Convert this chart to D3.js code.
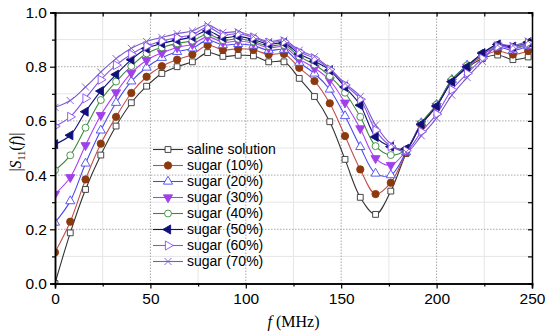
<!DOCTYPE html>
<html>
<head>
<meta charset="utf-8">
<script src="https://cdn.jsdelivr.net/npm/d3@7"></script>
<style>
  body { margin: 0; background: #fff; }
  svg { display: block; font-family: "Liberation Sans", Arial, sans-serif; }
</style>
</head>
<body>
<div id="chart"></div>
<script>
// frequency points (MHz)
var freq = [0, 8, 16, 24, 32, 40, 48, 56, 64, 72, 80, 88, 96, 104, 112, 120,
            128, 136, 144, 152, 160, 168, 176, 184, 192, 200, 208, 216, 224, 232, 240, 248];

// |S11(f)|
var saline = [0.000, 0.187, 0.347, 0.474, 0.581, 0.667, 0.728, 0.775, 0.800, 0.818, 0.852, 0.838, 0.842, 0.840, 0.818, 0.818,
              0.757, 0.690, 0.597, 0.458, 0.318, 0.255, 0.341, 0.480, 0.585, 0.655, 0.745, 0.795, 0.830, 0.843, 0.826, 0.836];
var sugar10 = [0.115, 0.228, 0.384, 0.516, 0.615, 0.703, 0.763, 0.802, 0.826, 0.845, 0.879, 0.862, 0.866, 0.862, 0.845, 0.847,
               0.796, 0.747, 0.665, 0.544, 0.421, 0.330, 0.372, 0.482, 0.585, 0.655, 0.748, 0.800, 0.838, 0.858, 0.845, 0.858];
var sugar20 = [0.225, 0.304, 0.443, 0.565, 0.667, 0.746, 0.797, 0.833, 0.855, 0.868, 0.898, 0.880, 0.884, 0.878, 0.860, 0.863,
               0.815, 0.775, 0.716, 0.618, 0.504, 0.406, 0.400, 0.485, 0.592, 0.660, 0.752, 0.805, 0.845, 0.872, 0.860, 0.876];
var sugar30 = [0.330, 0.392, 0.510, 0.621, 0.705, 0.777, 0.824, 0.851, 0.871, 0.883, 0.910, 0.890, 0.895, 0.887, 0.870, 0.873,
               0.828, 0.795, 0.750, 0.667, 0.572, 0.462, 0.437, 0.490, 0.590, 0.655, 0.745, 0.800, 0.845, 0.878, 0.866, 0.882];
var sugar40 = [0.418, 0.473, 0.575, 0.677, 0.745, 0.802, 0.849, 0.871, 0.886, 0.896, 0.920, 0.898, 0.903, 0.893, 0.876, 0.880,
               0.838, 0.808, 0.765, 0.704, 0.615, 0.507, 0.474, 0.495, 0.592, 0.660, 0.752, 0.805, 0.848, 0.880, 0.870, 0.885];
var sugar50 = [0.514, 0.547, 0.634, 0.710, 0.771, 0.826, 0.867, 0.886, 0.898, 0.910, 0.932, 0.908, 0.912, 0.900, 0.883, 0.887,
               0.847, 0.820, 0.787, 0.725, 0.658, 0.541, 0.505, 0.497, 0.588, 0.655, 0.745, 0.800, 0.850, 0.882, 0.874, 0.890];
var sugar60 = [0.580, 0.615, 0.683, 0.752, 0.806, 0.846, 0.876, 0.895, 0.908, 0.918, 0.945, 0.918, 0.922, 0.908, 0.889, 0.893,
               0.855, 0.830, 0.790, 0.733, 0.680, 0.566, 0.507, 0.490, 0.560, 0.625, 0.715, 0.775, 0.830, 0.875, 0.872, 0.888];
var sugar70 = [0.650, 0.675, 0.725, 0.780, 0.830, 0.868, 0.893, 0.908, 0.922, 0.932, 0.955, 0.927, 0.929, 0.912, 0.893, 0.898,
               0.861, 0.837, 0.794, 0.738, 0.690, 0.585, 0.515, 0.485, 0.545, 0.610, 0.695, 0.760, 0.820, 0.880, 0.878, 0.895];

var seriesNames = ["saline solution", "sugar (10%)", "sugar (20%)", "sugar (30%)",
                   "sugar (40%)", "sugar (50%)", "sugar (60%)", "sugar (70%)"];
var xTicks = [0, 50, 100, 150, 200, 250];
var yTicks = [0.0, 0.2, 0.4, 0.6, 0.8, 1.0];

// drawing styles per series
var styles = [
  { color: "#333333", fill: "#ffffff", stroke: "#333333", shape: d3.symbolSquare, rot: 0, size: 34 },
  { color: "#c0504d", fill: "#8b3a0e", stroke: "#8b3a0e", shape: d3.symbolCircle, rot: 0, size: 42 },
  { color: "#4a4af0", fill: "#ffffff", stroke: "#4a4af0", shape: d3.symbolTriangle, rot: 0, size: 36 },
  { color: "#b040f0", fill: "#a040e8", stroke: "#a040e8", shape: d3.symbolTriangle, rot: 180, size: 36 },
  { color: "#3a8a3a", fill: "#ffffff", stroke: "#3a8a3a", shape: d3.symbolCircle, rot: 0, size: 38 },
  { color: "#10107a", fill: "#10107a", stroke: "#10107a", shape: d3.symbolTriangle, rot: -90, size: 36 },
  { color: "#8a50f0", fill: "#ffffff", stroke: "#8a50f0", shape: d3.symbolTriangle, rot: 90, size: 36 },
  { color: "#7a5ac8", fill: "none", stroke: "#7a5ac8", shape: d3.symbolX || d3.symbolCross, rot: 0, size: 34 }
];

var allSeries = [saline, sugar10, sugar20, sugar30, sugar40, sugar50, sugar60, sugar70];

var width = 550, height = 333;
var margin = { top: 12.5, right: 18, bottom: 49.5, left: 55 };
var w = width - margin.left - margin.right,
    h = height - margin.top - margin.bottom;

var svg = d3.select("#chart").append("svg")
    .attr("width", width)
    .attr("height", height);

var g = svg.append("g")
    .attr("transform", "translate(" + margin.left + "," + margin.top + ")");

var x = d3.scaleLinear().domain([0, 250]).range([0, w]);
var y = d3.scaleLinear().domain([0, 1]).range([h, 0]);

// minor grid (faint)
g.append("g").selectAll("line")
    .data(d3.range(25, 250, 50))
  .enter().append("line")
    .attr("x1", d => x(d)).attr("x2", d => x(d))
    .attr("y1", 0).attr("y2", h)
    .attr("stroke", "#e6e6e6");
g.append("g").selectAll("line")
    .data(d3.range(0.1, 1, 0.2))
  .enter().append("line")
    .attr("x1", 0).attr("x2", w)
    .attr("y1", d => y(d)).attr("y2", d => y(d))
    .attr("stroke", "#e6e6e6");

// major grid (dotted)
g.append("g").selectAll("line")
    .data(xTicks.slice(1, -1))
  .enter().append("line")
    .attr("x1", d => x(d)).attr("x2", d => x(d))
    .attr("y1", 0).attr("y2", h)
    .attr("stroke", "#a8a8a8")
    .attr("stroke-dasharray", "1.5,1.5");
g.append("g").selectAll("line")
    .data(yTicks.slice(1, -1))
  .enter().append("line")
    .attr("x1", 0).attr("x2", w)
    .attr("y1", d => y(d)).attr("y2", d => y(d))
    .attr("stroke", "#a8a8a8")
    .attr("stroke-dasharray", "1.5,1.5");

// clip for curves
g.append("clipPath").attr("id", "clip")
  .append("rect").attr("width", w).attr("height", h);

var line = d3.line()
    .x(d => x(d[0]))
    .y(d => y(d[1]))
    .curve(d3.curveCatmullRom.alpha(0.5));

var plot = g.append("g").attr("clip-path", "url(#clip)");

allSeries.forEach(function (vals, i) {
  var pts = freq.map((f, j) => [f, vals[j]]);
  var st = styles[i];
  plot.append("path")
      .datum(pts)
      .attr("fill", "none")
      .attr("stroke", st.color)
      .attr("stroke-width", 1.1)
      .attr("d", line);
});

// markers drawn after all lines
allSeries.forEach(function (vals, i) {
  var st = styles[i];
  var sym = d3.symbol().type(st.shape).size(st.size);
  plot.append("g").selectAll("path")
      .data(freq.map((f, j) => [f, vals[j]]))
    .enter().append("path")
      .attr("d", sym)
      .attr("transform", d => "translate(" + x(d[0]) + "," + y(d[1]) + ") rotate(" + st.rot + ")")
      .attr("fill", st.fill)
      .attr("stroke", st.stroke)
      .attr("stroke-width", 0.9);
});

// axes
var tickFont = 15.5;
var xAxis = g.append("g")
    .attr("transform", "translate(0," + h + ")")
    .call(d3.axisBottom(x).tickValues(xTicks).tickSize(5).tickPadding(4).tickFormat(d3.format("d")));
var xMinor = g.append("g")
    .attr("transform", "translate(0," + h + ")")
    .call(d3.axisBottom(x).tickValues(d3.range(25, 250, 50)).tickSize(3).tickFormat(""));
var yAxis = g.append("g")
    .call(d3.axisLeft(y).tickValues(yTicks).tickSize(5).tickPadding(3).tickFormat(d3.format(".1f")));
var yMinor = g.append("g")
    .call(d3.axisLeft(y).tickValues(d3.range(0.1, 1, 0.2)).tickSize(3).tickFormat(""));
var topAxis = g.append("g")
    .call(d3.axisTop(x).tickValues(d3.range(0, 251, 25)).tickSize(-4).tickFormat(""));
var rightAxis = g.append("g")
    .attr("transform", "translate(" + w + ",0)")
    .call(d3.axisRight(y).tickValues(d3.range(0, 1.01, 0.1)).tickSize(-4).tickFormat(""));

[xAxis, xMinor, yAxis, yMinor, topAxis, rightAxis].forEach(function (a) {
  a.select(".domain").attr("stroke", "#000").attr("stroke-width", 1.5);
  a.selectAll(".tick line").attr("stroke", "#000").attr("stroke-width", 1.2);
  a.selectAll("text").attr("font-size", tickFont)
      .attr("font-family", "Liberation Sans, Arial, sans-serif").attr("fill", "#000");
});

// axis titles
svg.append("text")
    .attr("x", margin.left + w / 2)
    .attr("y", 327)
    .attr("text-anchor", "middle")
    .attr("font-family", "Liberation Serif, Times New Roman, serif")
    .attr("font-size", 16)
    .html('<tspan font-style="italic">f</tspan> (MHz)');

var yLab = svg.append("text")
    .attr("transform", "translate(21," + (margin.top + h / 2 + 4) + ") rotate(-90)")
    .attr("text-anchor", "middle")
    .attr("font-family", "Liberation Serif, Times New Roman, serif")
    .attr("font-size", 16);
yLab.append("tspan").text("|");
yLab.append("tspan").attr("font-style", "italic").text("S");
yLab.append("tspan").attr("font-size", 10).attr("dy", 4).text("11");
yLab.append("tspan").attr("dy", -4).text("(");
yLab.append("tspan").attr("font-style", "italic").text("f");
yLab.append("tspan").text(")|");

// legend
var legend = svg.append("g").attr("transform", "translate(153,149.5)");
seriesNames.forEach(function (name, i) {
  var st = styles[i];
  var row = legend.append("g").attr("transform", "translate(0," + (i * 16) + ")");
  row.append("line")
      .attr("x1", 0).attr("x2", 30)
      .attr("stroke", st.color).attr("stroke-width", 1.1);
  row.append("path")
      .attr("d", d3.symbol().type(st.shape).size(st.size))
      .attr("transform", "translate(15,0) rotate(" + st.rot + ")")
      .attr("fill", st.fill)
      .attr("stroke", st.stroke)
      .attr("stroke-width", 0.9);
  row.append("text")
      .attr("x", 34).attr("y", 0).attr("dy", "0.35em")
      .attr("font-size", 14)
      .attr("fill", "#000")
      .text(name);
});
</script>
</body>
</html>
